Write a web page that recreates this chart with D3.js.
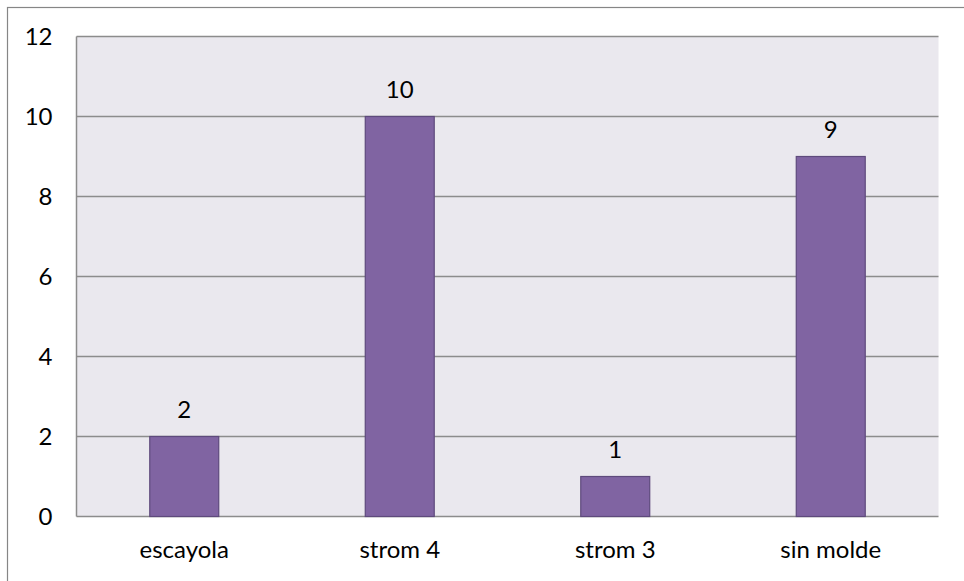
<!DOCTYPE html>
<html>
<head>
<meta charset="utf-8">
<script src="https://cdn.jsdelivr.net/npm/d3@7"></script>
<style>
  html, body { margin: 0; padding: 0; background: #ffffff; }
  svg { display: block; }
  text { font-family: Lato, "Open Sans", sans-serif; fill: #000; }
</style>
</head>
<body>
<svg id="chart" width="964" height="581"></svg>
<script>
// Chart data
const categories = ["escayola", "strom 4", "strom 3", "sin molde"];
const values = [2, 10, 1, 9];
const yTicks = [0, 2, 4, 6, 8, 10, 12];

const W = 964, H = 581;
const plot = { left: 76.5, top: 36.5, right: 938.5, bottom: 516.5 };
const fontSize = 24;

const svg = d3.select("#chart");

// Outer chart frame (extends beyond the visible area on the right and bottom)
svg.append("rect")
  .attr("x", 7.5).attr("y", 7.5)
  .attr("width", W + 20).attr("height", H + 20)
  .attr("fill", "#fff")
  .attr("stroke", "#868686").attr("stroke-width", 1.2);

const x = d3.scaleBand()
  .domain(categories)
  .range([plot.left, plot.right])
  .paddingInner(0).paddingOuter(0);

const y = d3.scaleLinear()
  .domain([0, 12])
  .range([plot.bottom, plot.top]);

// Plot area background
svg.append("rect")
  .attr("x", plot.left).attr("y", plot.top)
  .attr("width", plot.right - plot.left)
  .attr("height", plot.bottom - plot.top)
  .attr("fill", "#EAE8EE");

// Horizontal gridlines
svg.append("g")
  .selectAll("line")
  .data(yTicks)
  .join("line")
  .attr("x1", plot.left).attr("x2", plot.right)
  .attr("y1", d => y(d)).attr("y2", d => y(d))
  .attr("stroke", "#8C8C8C").attr("stroke-width", 1.5);

// Plot border left side (value axis line)
svg.append("line")
  .attr("x1", plot.left).attr("x2", plot.left)
  .attr("y1", plot.top).attr("y2", plot.bottom)
  .attr("stroke", "#8C8C8C").attr("stroke-width", 1.5);

// Y-axis tick labels
const yAxis = d3.axisLeft(y).tickValues(yTicks).tickSize(0).tickPadding(24);
const gy = svg.append("g")
  .attr("transform", `translate(${plot.left},0)`)
  .call(yAxis);
gy.select(".domain").remove();
gy.selectAll("text")
  .attr("font-family", "Lato, 'Open Sans', sans-serif")
  .attr("font-size", fontSize)
  .attr("fill", "#000");

// Bars
const barW = x.bandwidth() * 0.32;
svg.append("g")
  .selectAll("rect")
  .data(categories.map((c, i) => ({ c, v: values[i] })))
  .join("rect")
  .attr("x", d => x(d.c) + x.bandwidth() / 2 - barW / 2)
  .attr("y", d => y(d.v))
  .attr("width", barW)
  .attr("height", d => y(0) - y(d.v))
  .attr("fill", "#8064A2")
  .attr("stroke", "#5E4A7C").attr("stroke-width", 1.2);

// Value labels above bars
svg.append("g")
  .selectAll("text")
  .data(categories.map((c, i) => ({ c, v: values[i] })))
  .join("text")
  .attr("x", d => x(d.c) + x.bandwidth() / 2)
  .attr("y", d => y(d.v) - 19)
  .attr("text-anchor", "middle")
  .attr("font-size", fontSize)
  .text(d => d.v);

// Category labels
const xAxis = d3.axisBottom(x).tickSize(0).tickPadding(0);
const gx = svg.append("g")
  .attr("transform", `translate(0,${plot.bottom})`)
  .call(xAxis);
gx.select(".domain").remove();
gx.selectAll("text")
  .attr("dy", null)
  .attr("y", 41)
  .attr("font-family", "Lato, 'Open Sans', sans-serif")
  .attr("font-size", fontSize)
  .attr("fill", "#000");
</script>
</body>
</html>
